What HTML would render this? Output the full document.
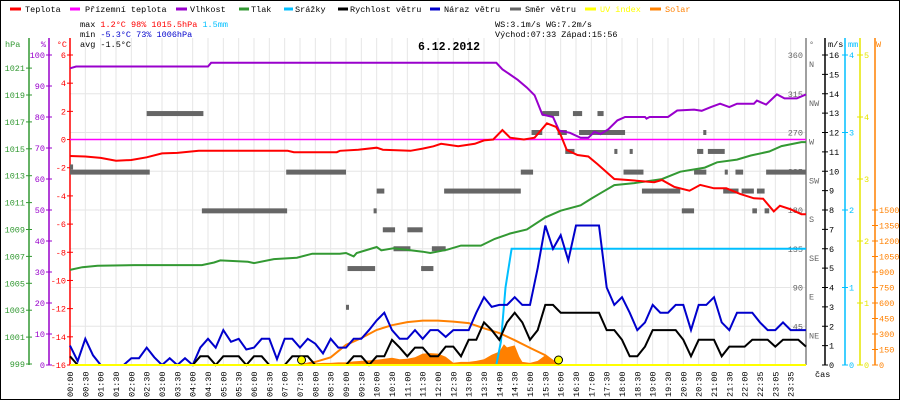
<!DOCTYPE html>
<html><head><meta charset="utf-8">
<style>
html,body{margin:0;padding:0;background:#fff;}
#wrap{position:relative;width:900px;height:400px;overflow:hidden;}
svg text{font-family:"Liberation Mono","DejaVu Sans Mono",monospace;font-size:8.5px;}
</style></head>
<body>
<div id="wrap">
<svg id="chart" width="900" height="400" viewBox="0 0 900 400" xmlns="http://www.w3.org/2000/svg">
<rect x="0.5" y="0.5" width="899" height="399" fill="#fff" stroke="#000"/>
<g id="grid"></g>
<g id="legend">
<line x1="10" y1="9" x2="21" y2="9" stroke="#ff0000" stroke-width="3"/>
<text x="25" y="12">Teplota</text>
<line x1="70" y1="9" x2="80" y2="9" stroke="#ff00ff" stroke-width="3"/>
<text x="85" y="12">Přízemní teplota</text>
<line x1="176" y1="9" x2="187" y2="9" stroke="#9900cc" stroke-width="3"/>
<text x="190" y="12">Vlhkost</text>
<line x1="239" y1="9" x2="249" y2="9" stroke="#339933" stroke-width="3"/>
<text x="251" y="12">Tlak</text>
<line x1="284" y1="9" x2="293" y2="9" stroke="#00bfff" stroke-width="3"/>
<text x="295" y="12">Srážky</text>
<line x1="338" y1="9" x2="348" y2="9" stroke="#000" stroke-width="3"/>
<text x="350" y="12">Rychlost větru</text>
<line x1="430" y1="9" x2="440" y2="9" stroke="#0000cc" stroke-width="3"/>
<text x="444" y="12">Náraz větru</text>
<line x1="510" y1="9" x2="521" y2="9" stroke="#666" stroke-width="3"/>
<text x="525" y="12">Směr větru</text>
<line x1="585" y1="9" x2="596" y2="9" stroke="#ffff00" stroke-width="3"/>
<text x="600" y="12" fill="#ffff00">UV index</text>
<line x1="650" y1="9" x2="661" y2="9" stroke="#ff8000" stroke-width="3"/>
<text x="665" y="12" fill="#ff8000">Solar</text>
</g>
<g id="stats">
<text x="80" y="27">max  <tspan fill="#ff0000">1.2°C  98%  1015.5hPa</tspan>   <tspan fill="#00bfff">1.5mm</tspan></text>
<text x="80" y="37">min <tspan fill="#0000cc">-5.3°C  73%  1006hPa</tspan></text>
<text x="80" y="47">avg -1.5°C</text>
<text x="495" y="27">WS:3.1m/s   WG:7.2m/s</text>
<text x="495" y="37">Východ:07:33 Západ:15:56</text>
<text x="449" y="50" text-anchor="middle" font-weight="bold" style="font-size:11.5px">6.12.2012</text>
</g>
<g id="axes"></g>
<g id="series"></g>
</svg>
</div>
<script>
// ---- data ----
const tempT = [0,0.5,1,1.5,2,2.5,3,3.5,4.2,5,6,7.1,7.3,8.7,8.8,9.4,10,10.2,11.1,11.5,11.85,12.1,12.66,13.2,13.5,13.8,14.1,14.35,14.8,15.15,15.55,15.85,16,16.2,16.55,16.9,17.2,17.75,18.2,19.05,19.3,19.7,20.2,20.55,21,21.4,21.85,22.3,22.6,22.95,23.15,23.5,23.85,24];
const tempV = [-1.17,-1.2,-1.3,-1.5,-1.45,-1.26,-0.98,-0.95,-0.8,-0.8,-0.8,-0.8,-0.9,-0.9,-0.8,-0.72,-0.58,-0.72,-0.8,-0.64,-0.48,-0.3,-0.48,-0.3,-0.06,0,0.68,0.13,0,0.13,1.15,0.9,0.32,-0.74,-1.1,-1.2,-1.74,-2.8,-2.87,-3.03,-2.87,-3.35,-3.63,-3.22,-3.46,-3.46,-3.86,-4.17,-4.2,-5.1,-4.7,-4.95,-5.3,-5.3];
const feelsT = [0,24];
const feelsV = [0,0];
const humT = [0,0.2,4.5,4.6,13.9,14.1,14.6,14.9,15.15,15.4,15.75,15.95,16.3,16.65,16.9,17.1,17.3,17.55,17.85,18.1,18.75,18.8,18.9,19.5,19.8,20.35,20.6,20.9,21.2,21.5,21.75,22.3,22.4,22.7,23.05,23.3,23.7,24];
const humV = [95.7,96.3,96.3,97.5,97.5,95.4,92,89.5,87,80.8,80,75.6,74.9,73.3,73.3,75.2,74.5,76,78.9,80,80,79.5,80,80,82.1,82.4,82,83.2,84.3,83.2,84.3,84.3,85.3,84,87.3,86,86,87.3];
const presT = [0,0.4,0.9,2.1,4.3,4.7,4.9,5.8,6,6.65,7.4,7.9,8.8,9,9.25,9.35,10,10.15,10.55,11.1,11.5,11.75,12.3,12.75,13.4,13.85,14.35,14.9,15.5,16,16.65,17,17.3,17.75,18.4,18.85,19.3,19.9,20.7,21.1,21.75,22.2,22.8,23.2,23.85,24];
const presV = [1006.0,1006.2,1006.3,1006.35,1006.35,1006.55,1006.7,1006.6,1006.5,1006.8,1006.9,1007.2,1007.2,1007.25,1007.0,1007.25,1007.7,1007.45,1007.6,1007.45,1007.35,1007.25,1007.5,1007.8,1007.8,1008.3,1008.7,1009.0,1009.9,1010.4,1010.8,1011.3,1011.7,1012.3,1012.45,1012.6,1012.75,1013.3,1013.6,1014.0,1014.2,1014.5,1014.8,1015.2,1015.5,1015.5];
// wind at 15-minute steps 00:00 .. 24:00
const gustV = [
1.0,0.2,1.35,0.5, 0,0,0,0, 0.35,0.35,0.9,0.4, 0,0.35,0,0.35,
0,0.9,1.35,0.9, 1.8,1.2,1.35,0.8, 0.9,1.35,1.35,0.3, 1.35,1.35,0.9,1.35,
1.1,0.6,1.35,0.9, 0.9,1.35,1.35,1.8, 2.3,2.7,1.8,1.35, 1.35,1.8,1.35,1.8,
1.8,1.45,1.8,1.8, 1.8,2.7,3.5,3.0, 3.1,3.1,3.5,3.1, 3.1,5.0,7.2,6.0,
6.7,5.4,7.2,7.2, 7.2,7.2,4.0,3.1, 3.5,2.7,1.8,2.2, 3.1,2.7,2.7,3.1,
3.1,1.8,3.1,3.1, 3.5,2.2,1.8,2.7, 2.7,2.7,2.2,1.8, 1.8,2.2,1.8,1.8, 1.8];
const speedV = [
0.45,0,0,0, 0,0,0,0, 0,0,0,0, 0,0,0,0,
0,0.45,0.45,0, 0.45,0.45,0.45,0, 0.45,0.45,0,0, 0,0.45,0.45,0.45,
0,0,0,0, 0,0.45,0.45,0, 0.45,0.45,1.3,0.9, 0.45,0.9,0.9,0.45,
0.45,0.95,0.95,0.45, 1.3,1.3,2.2,1.8, 1.3,2.2,2.7,2.2, 1.3,1.8,3.1,3.1,
2.7,2.7,2.7,2.7, 2.7,2.7,1.8,1.8, 1.3,0.45,0.45,0.95, 1.8,1.8,1.8,1.8,
1.3,0.45,1.3,1.3, 1.3,0.45,0.95,0.95, 0.95,1.3,1.3,1.3, 0.95,1.3,1.3,1.3, 0.95];
const rainT = [0,13.9,14.05,14.2,14.4,24];
const rainV = [0,0,0.3,1.0,1.5,1.5];
const solarT = [7.6,7.75,8,8.25,8.5,8.75,9,9.25,9.5,9.75,10,10.25,10.5,10.75,11,11.25,11.5,11.75,12,12.25,12.5,12.75,13,13.25,13.5,13.75,14,14.15,14.25,14.5,14.65,14.75,15,15.25,15.5,15.75,15.95];
const solarV = [0,10,15,20,20,25,25,35,40,45,50,60,70,55,60,75,110,115,110,80,22,30,30,40,55,100,130,200,170,190,80,30,20,40,95,50,0];
const solarCalcT = [7.55,8,8.5,9,9.5,10,10.5,11,11.5,12,12.5,13,13.5,14,14.5,15,15.5,15.93];
const solarCalcV = [0,30,75,195,260,340,385,415,430,430,420,405,355,310,240,165,95,0];
const uvT = [0,24];
const uvV = [0,0];
const sunEvents = [7.55,15.93];
const dirStart = [0,0,2.5,4.3,7.05,9,9.05,9.9,10,10.2,10.55,11,11.45,11.8,12.2,14.7,15.05,15.4,15.9,16.15,16.4,16.6,17.2,17.75,18.05,18.25,18.65,19.95,20.35,20.45,20.65,20.8,21.3,21.35,21.7,21.9,22.25,22.4,22.65,22.7];
const dirEnd   = [0.1,2.6,4.35,7.08,9,9.05,9.95,10,10.25,10.6,11.1,11.5,11.85,12.25,14.7,15.1,15.4,15.95,16.2,16.45,16.7,18.1,17.4,17.85,18.7,18.35,19.9,20.35,20.75,20.65,20.75,21.35,21.8,21.45,21.95,22.3,22.4,22.65,22.8,24];
const dirDeg   = [230,224,292,179,224,67,112,179,202,157,135,157,112,135,202,224,270,292,270,248,292,270,292,248,224,248,202,179,224,248,270,248,202,224,224,202,179,202,179,224];
const timeLabels = ["00:00","00:30","01:00","01:30","02:00","02:30","03:00","03:30","04:00","04:30","05:00","05:30","06:00","06:30","07:00","07:30","08:00","08:30","09:00","09:30","10:00","10:30","11:00","11:30","12:00","12:30","13:00","13:30","14:00","14:30","15:00","15:30","16:00","16:30","17:00","17:30","18:00","18:30","19:00","19:30","20:00","20:30","21:00","21:30","22:00","22:35","23:05","23:35"];
const presTicks = [999,1001,1003,1005,1007,1009,1011,1013,1015,1017,1019,1021];
const humTicks = [0,10,20,30,40,50,60,70,80,90,100];
const tempTicks = [-16,-14,-12,-10,-8,-6,-4,-2,0,2,4,6];
const dirTicks = [45,90,135,180,225,270,315,360];
const dirNames = ["NE","E","SE","S","SW","W","NW","N"];
const windTicks = [0,1,2,3,4,5,6,7,8,9,10,11,12,13,14,15,16];
const rainTicks = [0,1,2,3,4];
const uvTicks = [0,1,2,3,4,5];
const solarTicks = [0,150,300,450,600,750,900,1050,1200,1350,1500];

// ---- scales ----
const X0 = 70, X1 = 806, YT = 55, YB = 365;
const X = t => X0 + t * (X1 - X0) / 24;
const T = c => YT + (6 - c) * (YB - YT) / 22;
const H = h => YB - h * (YB - YT) / 100;
const P = p => 364 - (p - 999) * 13.45;
const W = v => YB - v * (YB - YT) / 16;
const R = m => YB - m * (YB - YT) / 4;
const U = u => YB - u * (YB - YT) / 5;
const S = w => YB - w * 155 / 1500;
const D = d => YB - d * (YB - YT) / 360;

const NS = 'http://www.w3.org/2000/svg';
function mk(tag, attrs, parent, txt) {
  const e = document.createElementNS(NS, tag);
  for (const k in attrs) e.setAttribute(k, attrs[k]);
  if (txt !== undefined) e.textContent = txt;
  parent.appendChild(e);
  return e;
}
const grid = document.getElementById('grid');
const axes = document.getElementById('axes');
const series = document.getElementById('series');

// grid
for (let i = 0; i < timeLabels.length; i++) {
  const x = X0 + i * (X1 - X0) / 48;
  const g = mk('line', {x1:x, y1:YT-17, x2:x, y2:YB, stroke:'#e6e6e6', 'stroke-width':1}, grid);
  
  
  const lbl = mk('text', {x:x+3, y:397, transform:`rotate(-90 ${x+3} 397)`}, axes, timeLabels[i]);
  
  
}
for (let d = 45; d <= 315; d += 45) {
  const g = mk('line', {x1:X0, y1:D(d), x2:X1, y2:D(d), stroke:'#e6e6e6', 'stroke-width':1}, grid);
  
  
}

// axis helper
function axis(name, x, top, color, ticks, fy, fmt, side, lx) {
  const ln = mk('line', {x1:x, y1:top, x2:x, y2:YB, stroke:color, 'stroke-width':1.5}, axes);
  
  
  ticks.forEach(v => {
    const y = fy(v);
    const tk = mk('line', {x1:x-3, y1:y, x2:x+3, y2:y, stroke:color, 'stroke-width':1}, axes);
    
    
    const t = mk('text', {x: side === 'L' ? x - 4 : x + 4, y: y + 3, fill: color, 'text-anchor': side === 'L' ? 'end' : 'start'}, axes, fmt(v));
    
    
  });
}
axis('pressure', 29, 38, '#339933', presTicks, P, v => String(v), 'L');
axis('humidity', 49, 38, '#9900cc', humTicks, H, v => String(v), 'L');
axis('temperature', 70, 38, '#ff0000', tempTicks, T, v => String(v), 'L');
axis('wind-speed', 825, 38, '#000000', windTicks, W, v => String(v), 'R');
axis('rain', 845, 38, '#00bfff', rainTicks, R, v => String(v), 'R');
axis('uv', 860, 38, '#e6e600', uvTicks, U, v => String(v), 'R');
axis('solar', 875, 38, '#ff8000', solarTicks, S, v => String(v), 'R');
// direction axis
const dl = mk('line', {x1:806, y1:38, x2:806, y2:YB, stroke:'#808080', 'stroke-width':1.5}, axes);


dirTicks.forEach((d, i) => {
  const dt = mk('text', {x:803, y:D(d)+3, fill:'#666', 'text-anchor':'end'}, axes, String(d));
  
  
  const dn = mk('text', {x:809, y:D(d)+12, fill:'#666'}, axes, dirNames[i]);
  
  
});
[['hPa',5,'#339933','start'],['%',46,'#9900cc','end'],['°C',67,'#ff0000','end'],['°',809,'#666','start'],['m/s',828,'#000','start'],['mm',848,'#00bfff','start'],['W',876,'#ff8000','start']].forEach(u => {
  const ut = mk('text', {x:u[1], y:47, fill:u[2], 'text-anchor':u[3]}, axes, u[0]);
  
  
});
const cas = mk('text', {x:815, y:377}, axes, 'čas');



// series helpers
function pts(ts, vs, fy) { return ts.map((t, i) => X(t).toFixed(1) + ',' + fy(vs[i]).toFixed(1)).join(' '); }
const q = i => i * 0.25;
const windT = gustV.map((v, i) => q(i));

// solar measured area
const solarArea = mk('polygon', {points: X(solarT[0]) + ',' + YB + ' ' + pts(solarT, solarV, S) + ' ' + X(solarT[solarT.length-1]) + ',' + YB, fill:'#ff8000', stroke:'none'}, series);



// wind direction bars
for (let i = 0; i < dirDeg.length; i++) {
  const b = mk('rect', {x:X(dirStart[i]), y:D(dirDeg[i]) - 2.5, width:Math.max(3, X(dirEnd[i]) - X(dirStart[i])), height:5, fill:'#666'}, series);
  
  
}

const feels = mk('polyline', {points: pts(feelsT, feelsV, T), fill:'none', stroke:'#ff00ff', 'stroke-width':1.5}, series);



const pres = mk('polyline', {points: pts(presT, presV, P), fill:'none', stroke:'#339933', 'stroke-width':2}, series);



const hum = mk('polyline', {points: pts(humT, humV, H), fill:'none', stroke:'#9900cc', 'stroke-width':2}, series);



const temp = mk('polyline', {points: pts(tempT, tempV, T), fill:'none', stroke:'#ff0000', 'stroke-width':2}, series);



const rain = mk('polyline', {points: pts(rainT, rainV, R), fill:'none', stroke:'#00bfff', 'stroke-width':2}, series);



const calc = mk('polyline', {points: pts(solarCalcT, solarCalcV, S), fill:'none', stroke:'#ff8000', 'stroke-width':2}, series);



const gust = mk('polyline', {points: pts(windT, gustV, W), fill:'none', stroke:'#0000cc', 'stroke-width':2}, series);



const speed = mk('polyline', {points: pts(windT, speedV, W), fill:'none', stroke:'#000', 'stroke-width':2}, series);



const uv = mk('polyline', {points: pts(uvT, uvV, U), fill:'none', stroke:'#ffff00', 'stroke-width':2}, series);



sunEvents.forEach(t => {
  const c = mk('circle', {cx:X(t), cy:YB - 5, r:4, fill:'#ffff00', stroke:'#000', 'stroke-width':1}, series);
  
  
});
</script>
</body></html>
